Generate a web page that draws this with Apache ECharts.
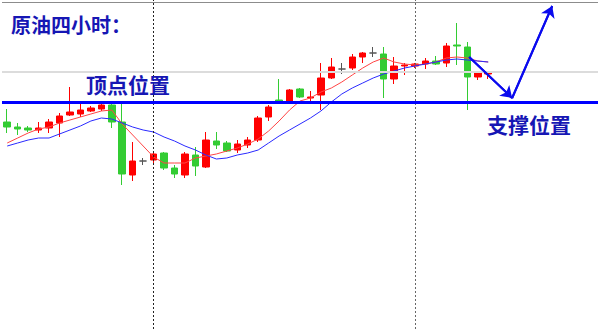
<!DOCTYPE html>
<html>
<head>
<meta charset="utf-8">
<script src="https://cdn.jsdelivr.net/npm/echarts@6/dist/echarts.min.js"></script>
<style>
html,body{margin:0;padding:0;background:#fff;}
#chart{width:600px;height:329px;}
</style>
</head>
<body>
<div id="chart"></div>
<script>
// ---- data (crude oil, 4-hour bars) ----
const categories = ['1','2','3','4','5','6','7','8','9','10','11','12','13','14','15','16','17','18','19','20','21','22','23','24','25','26','27','28','29','30','31','32','33','34','35','36','37','38','39','40','41','42','43','44','45','46','47'];
const futureSlots = 10; // empty space to the right of the last bar
const opens  = [50.07,50.02,50.01,49.99,50.01,50.06,50.14,50.15,50.18,50.20,50.24,50.07,49.54,49.68,49.69,49.76,49.61,49.54,49.74,49.62,49.88,49.86,49.79,49.84,49.89,50.12,50.29,50.28,50.40,50.31,50.34,50.51,50.60,50.61,50.72,50.76,50.75,50.50,50.63,50.63,50.65,50.68,50.66,50.84,50.82,50.52,50.55];
const closes = [50.02,50.00,49.99,50.01,50.07,50.13,50.17,50.19,50.21,50.24,50.07,49.55,49.68,49.68,49.75,49.61,49.55,49.75,49.63,49.89,49.84,49.78,49.85,49.89,50.11,50.22,50.28,50.39,50.32,50.32,50.51,50.62,50.60,50.72,50.76,50.76,50.50,50.63,50.64,50.65,50.68,50.65,50.83,50.83,50.52,50.57,50.56];
const lows   = [49.96,49.94,49.97,49.96,49.96,49.92,50.13,50.12,50.17,50.18,50.01,49.44,49.48,49.64,49.66,49.59,49.51,49.51,49.53,49.61,49.80,49.77,49.76,49.81,49.87,50.08,50.27,50.27,50.31,50.27,50.19,50.50,50.55,50.59,50.66,50.72,50.31,50.45,50.54,50.61,50.60,50.64,50.62,50.64,50.19,50.49,50.50];
const highs  = [50.20,50.06,50.03,50.07,50.10,50.16,50.42,50.26,50.23,50.26,50.26,50.26,49.87,49.71,49.77,49.77,49.64,49.77,49.82,49.97,49.97,49.88,49.89,49.92,50.13,50.24,50.50,50.40,50.41,50.38,50.66,50.71,50.66,50.75,50.77,50.82,50.82,50.72,50.66,50.66,50.71,50.73,50.86,51.06,50.87,50.57,50.58];
const maFast = [49.86,49.91,49.96,50.00,50.02,50.06,50.09,50.12,50.15,50.18,50.19,50.05,49.94,49.83,49.72,49.66,49.66,49.66,49.71,49.73,49.75,49.78,49.81,49.85,49.90,49.98,50.08,50.19,50.28,50.31,50.37,50.41,50.47,50.54,50.61,50.67,50.71,50.67,50.65,50.64,50.65,50.67,50.71,50.72,50.71,50.68,50.67];
const maSlow = [49.83,49.86,49.89,49.91,49.91,49.95,49.99,50.03,50.08,50.11,50.10,50.06,50.02,49.99,49.97,49.92,49.88,49.83,49.79,49.74,49.70,49.71,49.74,49.76,49.79,49.86,49.93,49.99,50.05,50.11,50.18,50.27,50.35,50.41,50.46,50.51,50.55,50.58,50.61,50.63,50.65,50.67,50.69,50.70,50.69,50.68,50.67];
const separatorBars = [14, 39];       // period separators (bar index)
const supportLevel = 50.275;          // 支撑位置 / 顶点位置 line
const gridLevels = [51.27, 50.57];    // horizontal chart grid lines
const arrowX = [44.18, 48.29, 52.12]; // projected path (bar index)
const arrowY = [50.72, 50.31, 51.23]; // projected path (price)
const titleText = '原油四小时：';
const topLabel = '顶点位置';
const supportLabel = '支撑位置';

// ---- build chart ----
const allCats = categories.slice();
for (let i = 0; i < futureSlots; i++) allCats.push('+' + (i + 1));
const kData = opens.map((o, i) => [o, closes[i], lows[i], highs[i]]);
const arrowPts = arrowX.map((x, i) => [x, arrowY[i]]);
const textBlue = '#1616b4';
const cjk = '"Noto Sans CJK SC", "Noto Sans CJK JP", sans-serif';

const chart = echarts.init(document.getElementById('chart'), null, {renderer: 'svg'});
chart.setOption({
  animation: false,
  backgroundColor: '#ffffff',
  title: {
    text: titleText, left: 6, top: 9,
    textStyle: {fontSize: 20, fontWeight: 'bold', color: textBlue, fontFamily: cjk}
  },
  grid: {left: 2, right: 2, top: 0, bottom: 0},
  xAxis: [
    {type: 'category', data: allCats, boundaryGap: true, show: false},
    {type: 'value', min: -0.5, max: allCats.length - 0.5, show: false}
  ],
  yAxis: {type: 'value', min: 48, max: 51.29, show: false},
  series: [
    {
      type: 'candlestick', data: kData, barWidth: 7,
      itemStyle: {
        color: '#ff0000', borderColor: '#ff0000',
        color0: '#33cc33', borderColor0: '#33cc33',
        borderColorDoji: '#555555', borderWidth: 1
      },
      markLine: {
        silent: true, symbol: 'none', label: {show: false},
        data: [
          {yAxis: gridLevels[0], lineStyle: {color: '#8c8c8c', width: 1, type: 'solid'}},
          {yAxis: gridLevels[1], lineStyle: {color: '#dcdcdc', width: 2, type: 'solid'}},
          {xAxis: categories[separatorBars[0]], lineStyle: {color: '#222222', width: 1, type: [2, 2]}},
          {xAxis: categories[separatorBars[1]], lineStyle: {color: '#666666', width: 1, type: [2, 2]}},
          {yAxis: supportLevel, lineStyle: {color: '#0000ff', width: 3, type: 'solid'}}
        ]
      }
    },
    {type: 'line', data: maFast, symbol: 'none', lineStyle: {color: '#ff4444', width: 1}, z: 3},
    {type: 'line', data: maSlow, symbol: 'none', lineStyle: {color: '#2a2aff', width: 1}, z: 3},
    {
      type: 'line', xAxisIndex: 1, data: arrowPts, symbol: 'none',
      lineStyle: {color: '#0a0aee', width: 2}, z: 5,
      markLine: {
        silent: true, symbol: ['none', 'arrow'], symbolSize: 11, label: {show: false},
        lineStyle: {color: '#0a0aee', width: 2, type: 'solid'},
        data: [
          [{coord: arrowPts[0]}, {coord: arrowPts[1]}],
          [{coord: arrowPts[1]}, {coord: arrowPts[2]}]
        ]
      }
    }
  ],
  graphic: [
    {type: 'text', left: 86, top: 73, z: 10,
     style: {text: topLabel, fill: textBlue, font: 'bold 21px ' + cjk}},
    {type: 'text', left: 487, top: 113, z: 10,
     style: {text: supportLabel, fill: textBlue, font: 'bold 21px ' + cjk}}
  ]
});
</script>
</body>
</html>
